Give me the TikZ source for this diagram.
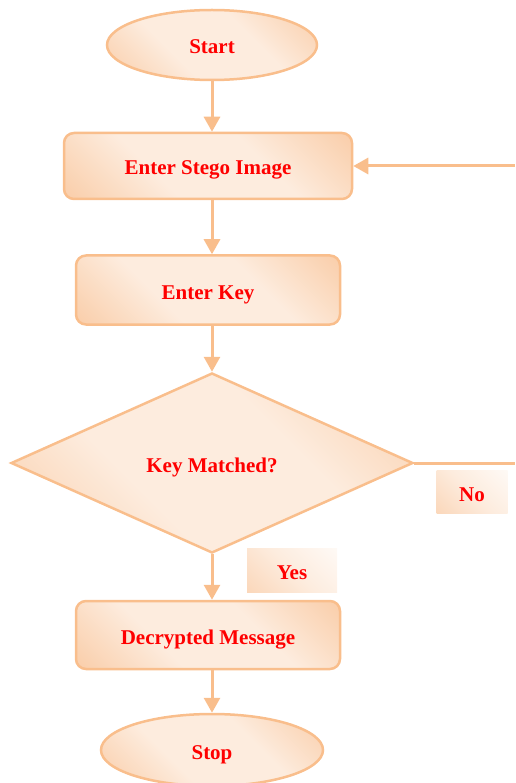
\documentclass[tikz,border=0pt]{standalone}
\usepackage{fontspec}
\setmainfont{Liberation Serif}
\usetikzlibrary{shapes.geometric,arrows.meta}
\definecolor{peachline}{RGB}{249,190,140}
\definecolor{peachdark}{RGB}{247,186,136}
\definecolor{peachlight}{RGB}{253,236,222}
\pgfdeclarehorizontalshading{peachfill}{100bp}{color(0bp)=(peachdark); color(38bp)=(peachlight); color(62bp)=(peachlight); color(100bp)=(peachdark)}
\pgfdeclarehorizontalshading{tagfill}{100bp}{color(0bp)=(peachdark!70!white); color(50bp)=(peachlight); color(100bp)=(white)}

\begin{document}
\begin{tikzpicture}[x=1pt,y=-1pt]
\tikzstyle{every node}=[font=\fontsize{21}{25}\selectfont\bfseries,text=red,text height=18pt,text depth=0pt,draw=peachline,line width=2.5pt,shading=peachfill,shading angle=45,inner sep=0]
\tikzstyle{term}=[ellipse]
\tikzstyle{proc}=[rectangle,rounded corners=10pt]
\tikzstyle{tag}=[draw=none,shading=tagfill]
\tikzstyle{flow}=[draw=peachline,line width=3pt,-{Triangle[length=15pt,width=16pt]}]
\useasboundingbox (0,0) rectangle (515,783);
\node[term,minimum width=210,minimum height=70] (start) at (212,45) {Start};
\node[proc,minimum width=288,minimum height=66] (stego) at (208,166) {Enter Stego Image};
\node[proc,minimum width=264,minimum height=69] (key) at (208,290) {Enter Key};
\node[diamond,aspect=2.23,minimum width=402,minimum height=180] (match) at (212,463) {Key Matched?};
\node[tag,minimum width=71,minimum height=43] (no) at (472,492) {No};
\node[tag,minimum width=90,minimum height=44] (yes) at (292,570) {Yes};
\node[proc,minimum width=264,minimum height=68] (msg) at (208,635) {Decrypted Message};
\node[term,minimum width=222,minimum height=72] (stop) at (212,750) {Stop};
\coordinate (back) at (515,166);
\coordinate (out) at (515,463);
\draw[flow] (start) -- (start |- stego.north);
\draw[flow] (stego.south -| start) -- (start |- key.north);
\draw[flow] (key.south -| start) -- (match.north);
\draw[flow] (match.south) -- (match.south |- msg.north);
\draw[flow] (msg.south -| match) -- (stop.north);
\draw[flow] (back) -- (stego.east);
\draw[flow,-] (match.east) -- (out);
\end{tikzpicture}
\end{document}
